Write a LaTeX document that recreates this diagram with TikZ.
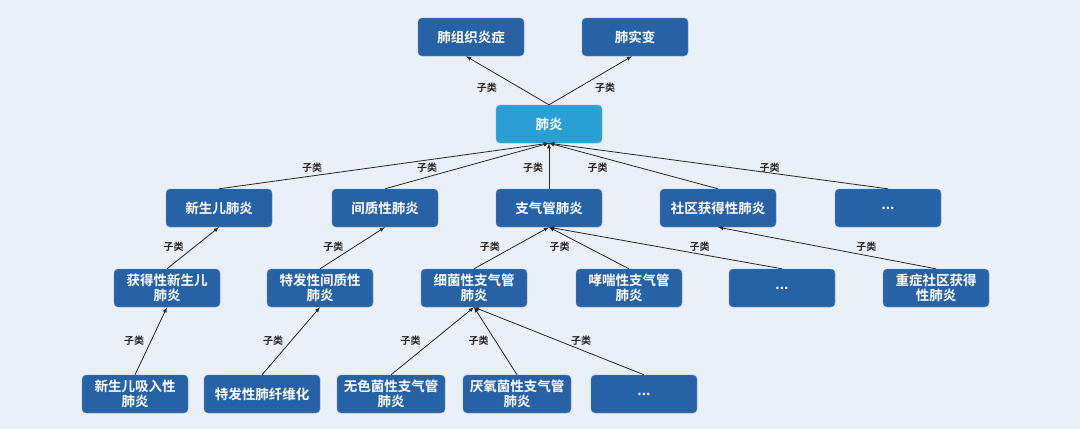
\documentclass[tikz,border=0pt]{standalone}
\usepackage{fontspec}
\usepackage{tikz}
\usetikzlibrary{arrows, positioning, calc}
\newfontfamily\cjk{Noto Sans CJK SC}[BoldFont=* Bold]
\definecolor{kg_darkblue}{HTML}{2862A6}
\definecolor{kg_lightblue}{HTML}{2A9FD4}
\definecolor{kg_bg}{HTML}{EAF0F7}
\tikzset{
  concept/.style={rectangle,rounded corners=4pt,draw=kg_darkblue!70!white,fill=kg_darkblue,text=white,font=\cjk\bfseries\fontsize{13.5}{15}\selectfont,minimum width=106pt,minimum height=38pt,inner sep=2pt,align=center},
  concept_root/.style={concept,fill=kg_lightblue,draw=kg_lightblue!70!white},
  subclass/.style={thick,-latex,black!85,line width=0.8pt},
  lbl/.style={font=\cjk\bfseries\fontsize{10}{11}\selectfont,text=black!85,inner sep=0pt},
}
\begin{document}
\begin{tikzpicture}[x=1pt,y=-1pt]
  \fill[kg_bg] (0,0) rectangle (1080,429);
  \useasboundingbox (0,0) rectangle (1080,429);
  % top
  \node[concept] (TISSUE) at (471,37) {肺组织炎症};
  \node[concept] (CONSOL) at (635,37) {肺实变};
  \node[concept_root] (PNEU) at (549,124) {肺炎};
  % second row
  \node[concept] (NEO) at (219,208) {新生儿肺炎};
  \node[concept] (INTER) at (385,208) {间质性肺炎};
  \node[concept] (BRONCH) at (549,208) {支气管肺炎};
  \node[concept,minimum width=116pt] (COMM) at (718,208) {社区获得性肺炎};
  \node[concept] (MORE_A) at (888,208) {...};
  % third row
  \node[concept] (NEO_ACQ) at (167,288) {获得性新生儿\\肺炎};
  \node[concept] (INTER_ID) at (320,288) {特发性间质性\\肺炎};
  \node[concept] (BRONCH_BAC) at (474,288) {细菌性支气管\\肺炎};
  \node[concept] (BRONCH_AST) at (629,288) {哮喘性支气管\\肺炎};
  \node[concept] (MORE_B) at (782,288) {...};
  \node[concept] (COMM_SEV) at (936,288) {重症社区获得\\性肺炎};
  % bottom row
  \node[concept] (NEO_ASP) at (135,394) {新生儿吸入性\\肺炎};
  \node[concept,minimum width=116pt] (IPF) at (262,394) {特发性肺纤维化};
  \node[concept,minimum width=108pt] (BAC_ACH) at (391,394) {无色菌性支气管\\肺炎};
  \node[concept,minimum width=108pt] (BAC_ANA) at (517,394) {厌氧菌性支气管\\肺炎};
  \node[concept] (MORE_C) at (644,394) {...};

  \draw[subclass] (PNEU.north) -- node[lbl,pos=0.35,xshift=-33pt] {子类} ([xshift=-5pt]TISSUE.south);
  \draw[subclass] (PNEU.north) -- node[lbl,pos=0.35,xshift=27pt] {子类} ([xshift=-3pt]CONSOL.south);

  \draw[subclass] (NEO.north) -- node[lbl,pos=0.47,xshift=-62pt] {子类} (PNEU.south);
  \draw[subclass] (INTER.north) -- node[lbl,pos=0.47,xshift=-35pt] {子类} (PNEU.south);
  \draw[subclass] (BRONCH.north) -- node[lbl,pos=0.47,xshift=-16pt] {子类} (PNEU.south);
  \draw[subclass] (COMM.north) -- node[lbl,pos=0.47,xshift=-41pt] {子类} (PNEU.south);
  \draw[subclass] (MORE_A.north) -- node[lbl,pos=0.47,xshift=41pt] {子类} (PNEU.south);

  \draw[subclass] (NEO_ACQ.north) -- node[lbl,pos=0.53,xshift=-21pt] {子类} (NEO.south);
  \draw[subclass] (INTER_ID.north) -- node[lbl,pos=0.53,xshift=-21pt] {子类} (INTER.south);
  \draw[subclass] (BRONCH_BAC.north) -- node[lbl,pos=0.53,xshift=-24pt] {子类} (BRONCH.south);
  \draw[subclass] (BRONCH_AST.north) -- node[lbl,pos=0.53,xshift=-27pt] {子类} (BRONCH.south);
  \draw[subclass] (MORE_B.north) -- node[lbl,pos=0.53,xshift=41pt] {子类} (BRONCH.south);
  \draw[subclass] (COMM_SEV.north) -- node[lbl,pos=0.53,xshift=46pt] {子类} (COMM.south);

  \draw[subclass] (NEO_ASP.north) -- node[lbl,pos=0.5,xshift=-17pt] {子类} (NEO_ACQ.south);
  \draw[subclass] (IPF.north) -- node[lbl,pos=0.5,xshift=-18pt] {子类} (INTER_ID.south);
  \draw[subclass] (BAC_ACH.north) -- node[lbl,pos=0.5,xshift=-22pt] {子类} (BRONCH_BAC.south);
  \draw[subclass] (BAC_ANA.north) -- node[lbl,pos=0.5,xshift=-17pt] {子类} (BRONCH_BAC.south);
  \draw[subclass] (MORE_C.north) -- node[lbl,pos=0.5,xshift=22pt] {子类} (BRONCH_BAC.south);
\end{tikzpicture}
\end{document}
